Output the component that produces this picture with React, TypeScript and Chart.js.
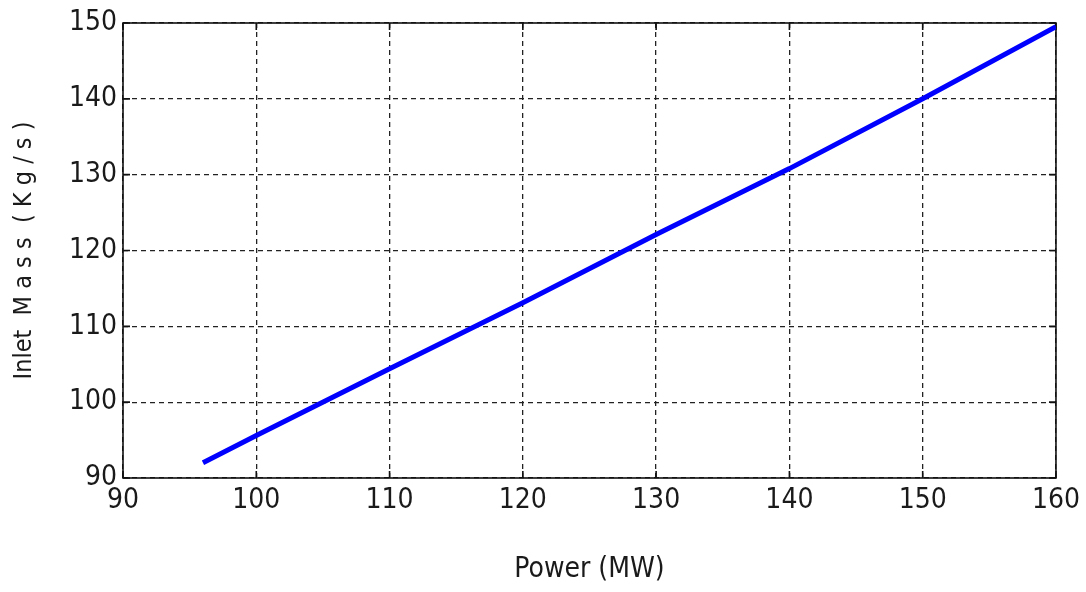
import React, { useEffect, useRef } from "react";
import { Chart, registerables } from "chart.js";

Chart.register(...registerables);

const powerMW = [96, 100, 110, 120, 130, 140, 150, 160];
const inletMass = [92.0, 95.6, 104.4, 113.1, 122.1, 130.8, 140.0, 149.5];
const xTickValues = [90, 100, 110, 120, 130, 140, 150, 160];
const yTickValues = [90, 100, 110, 120, 130, 140, 150];
const xTitle = "Power (MW)";
const yTitle = "Inlet  M a s s  ( K g / s )";

const FONT = '"Liberation Sans Narrow", "DejaVu Sans Condensed", "Liberation Sans", Arial, sans-serif';

const framePlugin = {
  id: "frame",
  beforeDatasetsDraw(chart: any) {
    const { ctx, chartArea: a, scales } = chart;
    ctx.save();
    ctx.strokeStyle = "#111";
    ctx.lineWidth = 1.6;
    ctx.setLineDash([]);
    ctx.strokeRect(a.left, a.top, a.right - a.left, a.bottom - a.top);
    const L = 7;
    ctx.beginPath();
    xTickValues.forEach((v) => {
      const px = scales.x.getPixelForValue(v);
      ctx.moveTo(px, a.bottom);
      ctx.lineTo(px, a.bottom - L);
      ctx.moveTo(px, a.top);
      ctx.lineTo(px, a.top + L);
    });
    yTickValues.forEach((v) => {
      const py = scales.y.getPixelForValue(v);
      ctx.moveTo(a.left, py);
      ctx.lineTo(a.left + L, py);
      ctx.moveTo(a.right, py);
      ctx.lineTo(a.right - L, py);
    });
    ctx.stroke();
    ctx.restore();
  },
};

export default function App() {
  const ref = useRef<HTMLCanvasElement | null>(null);
  useEffect(() => {
    if (!ref.current) return;
    const chart = new Chart(ref.current, {
      type: "line",
      data: {
        datasets: [
          {
            data: powerMW.map((x, i) => ({ x, y: inletMass[i] })),
            borderColor: "#0000ff",
            borderWidth: 5,
            pointRadius: 0,
            tension: 0,
            fill: false,
          },
        ],
      },
      plugins: [framePlugin],
      options: {
        animation: false,
        responsive: false,
        events: [],
        layout: { padding: { top: 23, right: 28, left: 0, bottom: 0 } },
        plugins: { legend: { display: false }, tooltip: { enabled: false } },
        scales: {
          x: {
            type: "linear",
            min: 90,
            max: 160,
            afterFit: (s: any) => {
              s.height = 114;
            },
            afterBuildTicks: (s: any) => {
              s.ticks = xTickValues.map((v) => ({ value: v }));
            },
            ticks: {
              color: "#1a1a1a",
              font: { family: FONT, size: 28 },
              padding: 6,
              maxRotation: 0,
              autoSkip: false,
            },
            grid: {
              color: "#222",
              lineWidth: 1.3,
              drawTicks: false,
            },
            border: { display: false, dash: [5, 4] },
            title: {
              display: true,
              text: xTitle,
              color: "#1a1a1a",
              font: { family: FONT, size: 28, lineHeight: 1 },
              padding: { top: 0, bottom: 8 },
            },
          },
          y: {
            type: "linear",
            min: 90,
            max: 150,
            afterFit: (s: any) => {
              s.width = 123;
            },
            afterBuildTicks: (s: any) => {
              s.ticks = yTickValues.map((v) => ({ value: v }));
            },
            ticks: {
              color: "#1a1a1a",
              font: { family: FONT, size: 28 },
              padding: 6,
              autoSkip: false,
            },
            grid: {
              color: "#222",
              lineWidth: 1.3,
              drawTicks: false,
            },
            border: { display: false, dash: [5, 4] },
            title: {
              display: true,
              text: yTitle,
              color: "#1a1a1a",
              font: { family: FONT, size: 25, lineHeight: 1 },
              padding: { top: 12, bottom: 0 },
            },
          },
        },
      },
    } as any);
    return () => chart.destroy();
  }, []);
  return (
    <div style={{ position: "absolute", left: 0, top: 0, width: 1086, height: 592, background: "#fff" }}>
      <canvas ref={ref} width={1086} height={592} style={{ display: "block" }} />
    </div>
  );
}
